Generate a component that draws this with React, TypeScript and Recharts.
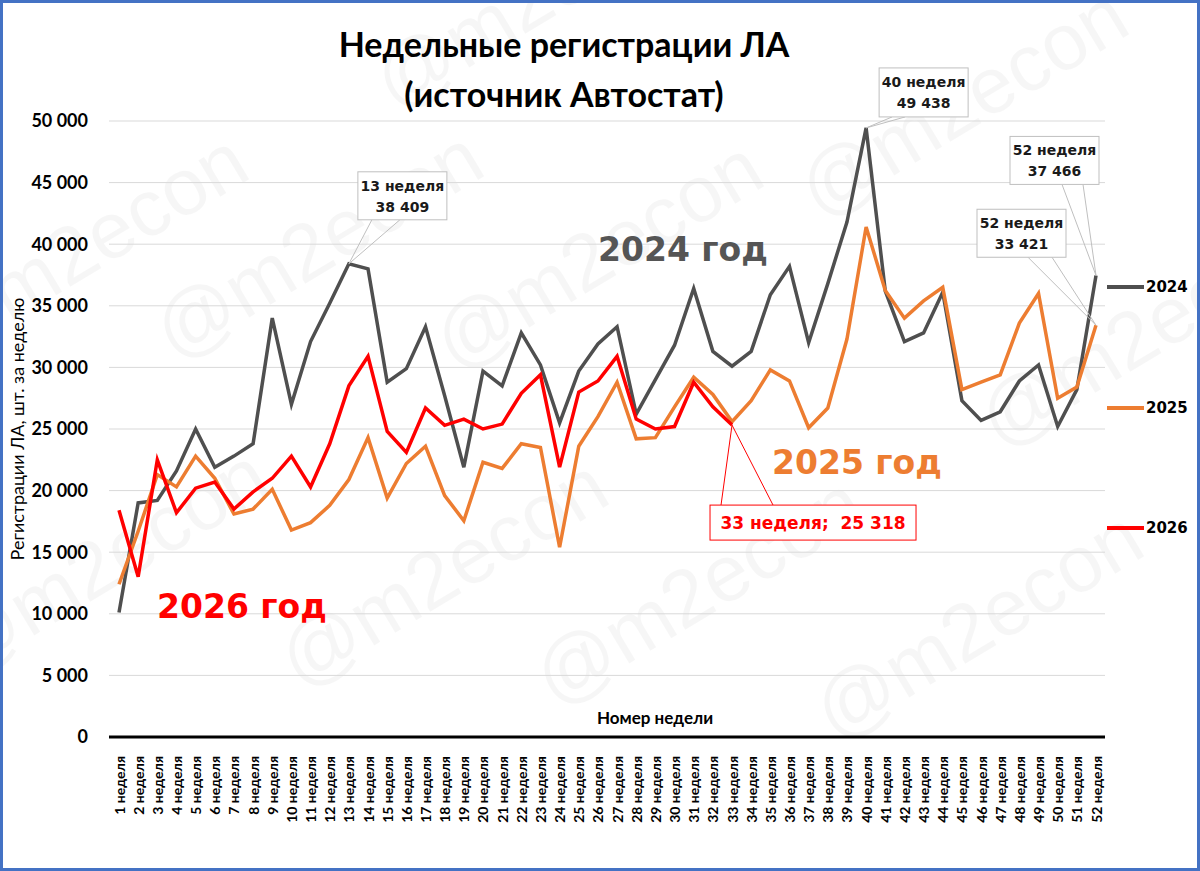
import { LineChart, Line, XAxis, YAxis, CartesianGrid, Legend } from "recharts";

const weeks = Array.from({ length: 52 }, (_, i) => `${i + 1} неделя`);

const series2024 = [
  10100, 19000, 19200, 21600, 25000, 21900, 22800, 23800, 34000, 27000,
  32100, 35200, 38409, 38000, 28800, 29900, 33300, 27700, 21900, 29700,
  28500, 32800, 30200, 25500, 29700, 31900, 33300, 26200, 29000, 31800,
  36400, 31300, 30100, 31300, 35900, 38200, 32000, 36800, 41800, 49438,
  36200, 32100, 32800, 36100, 27300, 25700, 26400, 28900, 30200, 25200,
  28200, 37466,
];

const series2025 = [
  12400, 16700, 21300, 20300, 22800, 21000, 18100, 18500, 20100, 16800,
  17400, 18800, 20900, 24300, 19400, 22200, 23600, 19600, 17550, 22300,
  21800, 23800, 23500, 15400, 23600, 26000, 28800, 24200, 24300, 26800,
  29200, 27800, 25600, 27300, 29800, 28900, 25100, 26700, 32300, 41400,
  36250, 34000, 35400, 36500, 28200, 28800, 29400, 33600, 36000, 27500,
  28400, 33421,
];

const series2026 = [
  18400, 13000, 22500, 18200, 20200, 20700, 18500, 19900, 21000, 22800,
  20300, 23800, 28500, 30900, 24800, 23100, 26700, 25300, 25800, 25000,
  25400, 27900, 29400, 21900, 28000, 28900, 30900, 25800, 25000, 25200,
  28800, 26800, 25318,
];

const yTicks = [0, 5000, 10000, 15000, 20000, 25000, 30000, 35000, 40000, 45000, 50000];

const chartData = weeks.map((week, i) => ({
  week,
  y2024: series2024[i],
  y2025: series2025[i],
  y2026: i < series2026.length ? series2026[i] : null,
}));

const fmt = (v: number) => String(v).replace(/\B(?=(\d{3})+(?!\d))/g, " ");

const GRAY = "#4F4F4F";
const ORANGE = "#ED7D31";
const RED = "#FF0000";

// callout boxes: offsets are relative to the data point
const callouts = [
  { key: "y2024", week: 13, dx: 9, dy: -92, w: 89, h: 48, legs: [14, 42], red: false },
  { key: "y2024", week: 40, dx: 13, dy: -60, w: 89, h: 49, legs: [13, 26], red: false },
  { key: "y2024", week: 52, dx: -86, dy: -139, w: 89, h: 48, legs: [52, 73], red: false },
  { key: "y2025", week: 52, dx: -119, dy: -116, w: 89, h: 48, legs: [51, 75], red: false },
  { key: "y2026", week: 33, dx: -22, dy: 80, w: 206, h: 35, legs: [11, 63], red: true },
];

const makeCallout = (key: string) => (p: any) => {
  const c = callouts.find((o) => o.key === key && o.week - 1 === p.index);
  if (!c || p.value == null) return <g key={`c-${key}-${p.index}`} />;
  const bx = p.x + c.dx;
  const by = p.y + c.dy;
  const attachY = c.dy < 0 ? by + c.h : by;
  const stroke = c.red ? RED : "#BFBFBF";
  return (
    <g key={`c-${key}-${p.index}`} fontFamily="DejaVu Sans" fontWeight="bold">
      {c.legs.map((l) => (
        <line key={l} x1={p.x} y1={p.y} x2={bx + l} y2={attachY} stroke={stroke} strokeWidth={1} />
      ))}
      <rect x={bx} y={by} width={c.w} height={c.h} fill="#fff" stroke={stroke} strokeWidth={1} />
      {c.red ? (
        <text x={bx + c.w / 2} y={by + 24} textAnchor="middle" fontSize={17} fill={RED} style={{ whiteSpace: "pre" }}>
          {`${c.week} неделя;  ${fmt(p.value)}`}
        </text>
      ) : (
        <>
          <text x={bx + c.w / 2} y={by + 19} textAnchor="middle" fontSize={14} fill="#1A1A1A">
            {`${c.week} неделя`}
          </text>
          <text x={bx + c.w / 2} y={by + 40} textAnchor="middle" fontSize={14} fill="#1A1A1A">
            {fmt(p.value)}
          </text>
        </>
      )}
    </g>
  );
};

const WeekTick = (props: any) => {
  const { x, y, payload } = props;
  return (
    <text
      x={x}
      y={y + 11}
      transform={`rotate(-90, ${x}, ${y + 11})`}
      textAnchor="end"
      dominantBaseline="central"
      fontFamily="Lato"
      fontWeight="bold"
      fontSize={14}
      fill="#000"
    >
      {payload.value}
    </text>
  );
};

const legendTops = [0, 121, 241];

const LegendContent = (props: any) => {
  const { payload } = props;
  return (
    <div style={{ position: "relative", width: 93, height: 260 }}>
      {(payload || []).map((item: any, i: number) => (
        <div
          key={item.value}
          style={{ position: "absolute", left: 0, top: legendTops[i], display: "flex", alignItems: "center", height: 34 }}
        >
          <div style={{ width: 37, height: 4, background: item.color }} />
          <span style={{ marginLeft: 2, fontFamily: "DejaVu Sans", fontWeight: "bold", fontSize: 15, color: "#000" }}>
            {item.value}
          </span>
        </div>
      ))}
    </div>
  );
};

const watermarks = [
  [395, 112], [-60, 365], [175, 362], [455, 372], [820, 220], [1000, 450],
  [-40, 680], [300, 690], [555, 708], [835, 742],
];

const App = () => {
  return (
    <div style={{ position: "absolute", left: 0, top: 0, width: 1200, height: 871, background: "#fff", overflow: "hidden" }}>
      <svg width={1200} height={871} style={{ position: "absolute", left: 0, top: 0 }}>
        {watermarks.map(([x, y], i) => (
          <text
            key={i}
            x={x}
            y={y}
            transform={`rotate(-31, ${x}, ${y})`}
            fontFamily="Liberation Sans"
            fontSize={80}
            fill="#000"
            fillOpacity={0.035}
          >
            @m2econ
          </text>
        ))}
      </svg>

      <div style={{ position: "absolute", left: 0, top: 0 }}>
        <LineChart width={1200} height={871} data={chartData} margin={{ top: 121, right: 95, bottom: 34, left: 0 }}>
          <CartesianGrid stroke="#D9D9D9" vertical={false} />
          <XAxis
            dataKey="week"
            interval={0}
            height={100}
            padding={{ left: 10, right: 9 }}
            tick={<WeekTick />}
            tickLine={false}
            axisLine={{ stroke: "#000", strokeWidth: 3 }}
          />
          <YAxis
            width={109}
            domain={[0, 50000]}
            ticks={yTicks}
            tickFormatter={fmt}
            axisLine={false}
            tickLine={false}
            tickMargin={15}
            tick={{ fontFamily: "Lato", fontWeight: "bold", fontSize: 18, fill: "#000" }}
          />
          <Legend
            layout="vertical"
            align="center"
            verticalAlign="middle"
            content={<LegendContent />}
            wrapperStyle={{ left: 1107, top: 270, width: 93, height: 260 }}
          />
          <Line
            type="linear"
            dataKey="y2024"
            name="2024"
            stroke={GRAY}
            strokeWidth={3.5}
            dot={false}
            isAnimationActive={false}
            label={makeCallout("y2024")}
          />
          <Line
            type="linear"
            dataKey="y2025"
            name="2025"
            stroke={ORANGE}
            strokeWidth={3.5}
            dot={false}
            isAnimationActive={false}
            label={makeCallout("y2025")}
          />
          <Line
            type="linear"
            dataKey="y2026"
            name="2026"
            stroke={RED}
            strokeWidth={3.5}
            dot={false}
            connectNulls={false}
            isAnimationActive={false}
            label={makeCallout("y2026")}
          />
        </LineChart>
      </div>

      <div style={{ position: "absolute", left: 264, top: 19, width: 600, textAlign: "center", fontFamily: "Lato", fontWeight: "bold", fontSize: 34, lineHeight: "50px", color: "#000" }}>
        Недельные регистрации ЛА
        <br />
        (источник Автостат)
      </div>

      <div style={{ position: "absolute", left: 598, top: 230, fontFamily: "DejaVu Sans", fontWeight: "bold", fontSize: 33, lineHeight: "40px", color: "#555555" }}>
        2024 год
      </div>
      <div style={{ position: "absolute", left: 772, top: 443, fontFamily: "DejaVu Sans", fontWeight: "bold", fontSize: 33, lineHeight: "40px", color: ORANGE }}>
        2025 год
      </div>
      <div style={{ position: "absolute", left: 157, top: 587, fontFamily: "DejaVu Sans", fontWeight: "bold", fontSize: 33, lineHeight: "40px", color: RED }}>
        2026 год
      </div>

      <div style={{ position: "absolute", left: 505, top: 707, width: 300, textAlign: "center", fontFamily: "Lato", fontWeight: "bold", fontSize: 17, lineHeight: "22px", color: "#000" }}>
        Номер недели
      </div>

      <div
        style={{
          position: "absolute",
          left: 17 - 160,
          top: 429 - 11,
          width: 320,
          textAlign: "center",
          transform: "rotate(-90deg)",
          fontFamily: "Lato",
          fontSize: 18,
          lineHeight: "22px",
          color: "#000",
        }}
      >
        Регистрации ЛА, шт. за неделю
      </div>

      <div style={{ position: "absolute", left: 0, top: 0, width: 1200, height: 871, boxSizing: "border-box", border: "3px solid #4472C4", pointerEvents: "none" }} />
    </div>
  );
};

export default App;
